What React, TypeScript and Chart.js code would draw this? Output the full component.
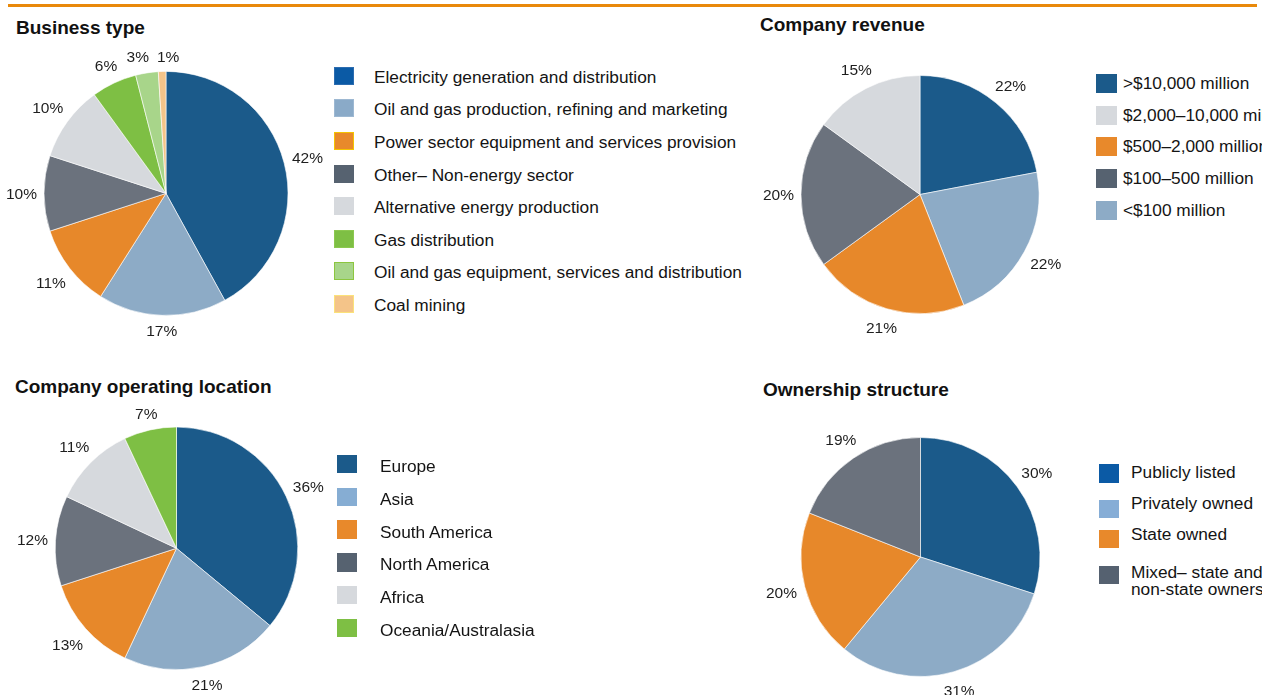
import React, { useEffect, useRef } from "react";
import { Chart, registerables } from "chart.js";

Chart.register(...registerables);

// ---------- DATA ----------
const businessLabels = [
  "Electricity generation and distribution",
  "Oil and gas production, refining and marketing",
  "Power sector equipment and services provision",
  "Other– Non-energy sector",
  "Alternative energy production",
  "Gas distribution",
  "Oil and gas equipment, services and distribution",
  "Coal mining",
];
const businessValues = [42, 17, 11, 10, 10, 6, 3, 1];

// slice order (clockwise from 12 o'clock)
const revenueLabels = [
  ">$10,000 million",
  "<$100 million",
  "$500–2,000 million",
  "$100–500 million",
  "$2,000–10,000 million",
];
const revenueValues = [22, 22, 21, 20, 15];
// legend order
const revenueLegendOrder = [
  ">$10,000 million",
  "$2,000–10,000 million",
  "$500–2,000 million",
  "$100–500 million",
  "<$100 million",
];

const locationLabels = [
  "Europe",
  "Asia",
  "South America",
  "North America",
  "Africa",
  "Oceania/Australasia",
];
const locationValues = [36, 21, 13, 12, 11, 7];

const ownershipLabels = [
  "Publicly listed",
  "Privately owned",
  "State owned",
  "Mixed– state and\nnon-state ownership",
];
const ownershipValues = [30, 31, 20, 19];

// ---------- COLOURS ----------
const C = {
  darkBlue: "#1B5A8A",
  lightBlue: "#8DABC6",
  orange: "#E7882A",
  darkGray: "#6B727D",
  lightGray: "#D6D9DD",
  green: "#7EBF44",
  lightGreen: "#A8D58A",
  peach: "#F4C489",
};

const businessColors = [C.darkBlue, C.lightBlue, C.orange, C.darkGray, C.lightGray, C.green, C.lightGreen, C.peach];
const businessSwatch = ["#0B5AA5", "#8AAAC8", "#E8892B", "#566270", "#D6D9DD", "#7EBF44", "#A8D58A", "#F4C489"];
const businessSwatchBorder = ["#2C6CB0", "#9DB8D2", "#F5C400", "#566270", "#D6D9DD", "#8CC850", "#8CC63F", "#FBE27A"];

const revenueColors = [C.darkBlue, C.lightBlue, C.orange, C.darkGray, C.lightGray];
const revenueSwatch: Record<string, string> = {
  ">$10,000 million": "#1B5A8A",
  "$2,000–10,000 million": "#D6D9DD",
  "$500–2,000 million": "#E8892B",
  "$100–500 million": "#566270",
  "<$100 million": "#8DABC6",
};

const locationColors = [C.darkBlue, C.lightBlue, C.orange, C.darkGray, C.lightGray, C.green];
const locationSwatch = ["#1B5A8A", "#86ADD3", "#E8892B", "#566270", "#D6D9DD", "#7EBF44"];

const ownershipColors = [C.darkBlue, C.lightBlue, C.orange, C.darkGray];
const ownershipSwatch = ["#0B5AA5", "#86ADD6", "#E8892B", "#556170"];

// ---------- HELPERS ----------
const FONT = '"Liberation Sans", Arial, Helvetica, sans-serif';
const textTop = (baseline: number, size: number) => baseline - 0.8465 * size;

const outsideLabels = {
  id: "outsideLabels",
  afterDatasetsDraw(chart: any) {
    const ctx = chart.ctx;
    const meta = chart.getDatasetMeta(0);
    const data = chart.data.datasets[0].data as number[];
    ctx.save();
    ctx.font = `15.5px ${FONT}`;
    ctx.fillStyle = "#1e1e1e";
    ctx.textAlign = "center";
    ctx.textBaseline = "alphabetic";
    const boxes = meta.data.map((arc: any, i: number) => {
      const p = arc.getProps(["x", "y", "startAngle", "endAngle", "outerRadius"], true);
      const a = (p.startAngle + p.endAngle) / 2;
      const text = `${data[i]}%`;
      const w = ctx.measureText(text).width;
      const hh = 8;
      const c = Math.cos(a);
      const s = Math.sin(a);
      const proj = (w / 2) * Math.abs(c) + hh * Math.abs(s);
      const d = p.outerRadius + 7 + proj;
      return { text, w, x: p.x + c * d, y: p.y + s * d };
    });
    // simple horizontal de-overlap
    for (let it = 0; it < 30; it++) {
      for (let i = 0; i < boxes.length; i++) {
        for (let j = i + 1; j < boxes.length; j++) {
          const A = boxes[i];
          const B = boxes[j];
          if (Math.abs(A.y - B.y) > 16) continue;
          const need = (A.w + B.w) / 2 + 8;
          const dx = B.x - A.x;
          if (Math.abs(dx) < need) {
            const push = (need - Math.abs(dx)) / 2;
            const dir = dx >= 0 ? 1 : -1;
            A.x -= dir * push;
            B.x += dir * push;
          }
        }
      }
    }
    boxes.forEach((b: any) => ctx.fillText(b.text, b.x, b.y + 5.6));
    ctx.restore();
  },
};

type PieProps = {
  labels: string[];
  values: number[];
  colors: string[];
  cx: number;
  cy: number;
  r: number;
  left: number;
  top: number;
  width: number;
  height: number;
};

function Pie({ labels, values, colors, cx, cy, r, left, top, width, height }: PieProps) {
  const ref = useRef<HTMLCanvasElement | null>(null);
  useEffect(() => {
    if (!ref.current) return;
    const lx = cx - left;
    const ly = cy - top;
    const chart = new Chart(ref.current, {
      type: "pie",
      data: {
        labels,
        datasets: [
          {
            data: values,
            backgroundColor: colors,
            borderColor: "rgba(255,255,255,0.75)",
            borderWidth: 0.8,
            radius: r,
          } as any,
        ],
      },
      options: {
        responsive: false,
        animation: false,
        devicePixelRatio: 1,
        layout: {
          padding: {
            left: lx - r,
            top: ly - r,
            right: width - (lx + r),
            bottom: height - (ly + r),
          },
        },
        plugins: {
          legend: { display: false },
          tooltip: { enabled: false },
        },
      },
      plugins: [outsideLabels],
    });
    return () => chart.destroy();
  }, []);
  return (
    <canvas
      ref={ref}
      width={width}
      height={height}
      style={{ position: "absolute", left, top, width, height }}
    />
  );
}

function Title({ text, x, baseline }: { text: string; x: number; baseline: number }) {
  const size = 19;
  return (
    <div
      style={{
        position: "absolute",
        left: x,
        top: textTop(baseline, size),
        fontSize: size,
        lineHeight: 1,
        fontWeight: "bold",
        color: "#111",
        whiteSpace: "nowrap",
      }}
    >
      {text}
    </div>
  );
}

type LegendRow = {
  label: string;
  color: string;
  border?: string;
  center: number;
  baseline: number;
};

function Legend({ rows, sx, tx, sw, sh }: { rows: LegendRow[]; sx: number; tx: number; sw: number; sh: number }) {
  const size = 17.3;
  return (
    <>
      {rows.map((row, i) => (
        <React.Fragment key={i}>
          <div
            style={{
              position: "absolute",
              left: sx,
              top: row.center - sh / 2,
              width: sw,
              height: sh,
              boxSizing: "border-box",
              background: row.color,
              border: `1px solid ${row.border || row.color}`,
            }}
          />
          {row.label.split("\n").map((line, j) => (
            <div
              key={j}
              style={{
                position: "absolute",
                left: tx,
                top: textTop(row.baseline + j * 17, size),
                fontSize: size,
                lineHeight: 1,
                color: "#141414",
                whiteSpace: "nowrap",
              }}
            >
              {line}
            </div>
          ))}
        </React.Fragment>
      ))}
    </>
  );
}

export default function App() {
  const businessRows: LegendRow[] = businessLabels.map((label, i) => {
    const c = 75.7 + i * 32.6;
    return { label, color: businessSwatch[i], border: businessSwatchBorder[i], center: c, baseline: c + 7.8 };
  });
  const revenueRows: LegendRow[] = revenueLegendOrder.map((label, i) => {
    const c = 83.3 + i * 31.8;
    return { label, color: revenueSwatch[label], center: c, baseline: c + 6.1 };
  });
  const locationRows: LegendRow[] = locationLabels.map((label, i) => {
    const c = 464.2 + i * 32.76;
    return { label, color: locationSwatch[i], center: c, baseline: c + 8.6 };
  });
  const ownCenters = [473.3, 508.8, 539.2, 575];
  const ownBaselines = [478.3, 510, 541, 578.3];
  const ownershipRows: LegendRow[] = ownershipLabels.map((label, i) => ({
    label,
    color: ownershipSwatch[i],
    center: ownCenters[i],
    baseline: ownBaselines[i],
  }));

  return (
    <div
      style={{
        position: "absolute",
        left: 0,
        top: 0,
        width: 1262,
        height: 695,
        overflow: "hidden",
        background: "#ffffff",
        fontFamily: FONT,
      }}
    >
      <div style={{ position: "absolute", left: 8, top: 4, width: 1249, height: 3, background: "#E9890A" }} />

      <Title text="Business type" x={16} baseline={34} />
      <Pie labels={businessLabels} values={businessValues} colors={businessColors}
        cx={166} cy={193.4} r={122} left={0} top={40} width={330} height={310} />
      <Legend rows={businessRows} sx={334} tx={374} sw={20} sh={18} />

      <Title text="Company revenue" x={760} baseline={31} />
      <Pie labels={revenueLabels} values={revenueValues} colors={revenueColors}
        cx={920} cy={194.5} r={119} left={760} top={45} width={320} height={305} />
      <Legend rows={revenueRows} sx={1096} tx={1123} sw={20.5} sh={19} />

      <Title text="Company operating location" x={15} baseline={393.3} />
      <Pie labels={locationLabels} values={locationValues} colors={locationColors}
        cx={176.5} cy={548.3} r={121.3} left={0} top={395} width={340} height={300} />
      <Legend rows={locationRows} sx={336.5} tx={380} sw={20.5} sh={18.5} />

      <Title text="Ownership structure" x={763} baseline={396} />
      <Pie labels={ownershipLabels} values={ownershipValues} colors={ownershipColors}
        cx={920.5} cy={557} r={119.5} left={760} top={400} width={320} height={295} />
      <Legend rows={ownershipRows} sx={1099} tx={1131} sw={20} sh={18.5} />
    </div>
  );
}
